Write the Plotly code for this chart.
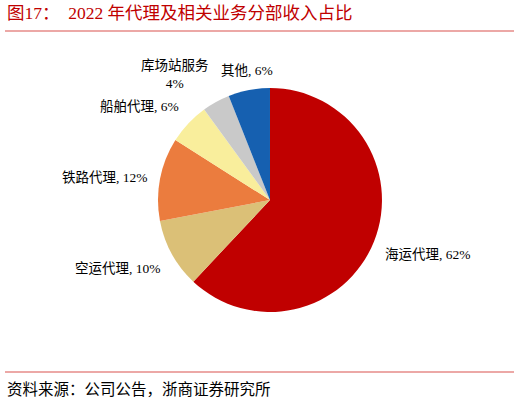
import math
import plotly.graph_objects as go

# 2022年代理及相关业务分部收入占比 (%)
labels = ["海运代理", "空运代理", "铁路代理", "船舶代理", "库场站服务", "其他"]
values = [62, 10, 12, 6, 4, 6]
label_text = ["海运代理, 62%", "空运代理, 10%", "铁路代理, 12%", "船舶代理, 6%", "库场站服务<br>4%", "其他, 6%"]
colors = ["#C00000", "#DBC077", "#EB7C3E", "#F9EE9C", "#C9C9C9", "#1660B0"]

FONT = "Liberation Serif, Noto Sans CJK SC, serif"
W, H = 520, 403
dom_x = [0.3038, 0.7346]
dom_y = [0.2258, 0.7816]

fig = go.Figure(go.Pie(
    labels=labels,
    values=values,
    textinfo="none",
    sort=False,
    direction="clockwise",
    rotation=0,
    marker=dict(colors=colors, line=dict(width=0)),
    domain=dict(x=dom_x, y=dom_y),
    showlegend=False,
    hoverinfo="label+percent",
))

fig.update_layout(
    width=W, height=H,
    margin=dict(l=0, r=0, t=0, b=0),
    paper_bgcolor="white",
    plot_bgcolor="white",
    showlegend=False,
)

# data labels just outside each slice (Excel style, no leader lines)
cx = (dom_x[0] + dom_x[1]) / 2 * W
cy = (1 - (dom_y[0] + dom_y[1]) / 2) * H
rad = (dom_x[1] - dom_x[0]) * W / 2 + 10
total = sum(values)
cum = 0
for txt, v in zip(label_text, values):
    mid = (cum + v / 2) / total * 2 * math.pi
    cum += v
    s, c = math.sin(mid), math.cos(mid)
    px, py = cx + rad * s, cy - rad * c
    xa = "left" if s > 0.3 else ("right" if s < -0.3 else "center")
    ya = "bottom" if c > 0.3 else ("top" if c < -0.3 else "middle")
    fig.add_annotation(text=txt, xref="paper", yref="paper", x=px / W, y=1 - py / H,
                       xanchor=xa, yanchor=ya, showarrow=False, align="center",
                       font=dict(family=FONT, size=13.5, color="#000000"))

# title and source
fig.add_annotation(text="图17：  2022 年代理及相关业务分部收入占比", xref="paper", yref="paper",
                   x=0.01, y=1 - 13 / H, xanchor="left", yanchor="middle", showarrow=False,
                   font=dict(family=FONT, size=17.5, color="#C00000"))
fig.add_annotation(text="资料来源：公司公告，浙商证券研究所", xref="paper", yref="paper",
                   x=0.01, y=1 - 389 / H, xanchor="left", yanchor="middle", showarrow=False,
                   font=dict(family=FONT, size=15.5, color="#000000"))
fig.add_shape(type="line", xref="paper", yref="paper", x0=5 / W, x1=514 / W,
              y0=1 - 31 / H, y1=1 - 31 / H, line=dict(color="#D9534F", width=1.2))
fig.add_shape(type="line", xref="paper", yref="paper", x0=5 / W, x1=514 / W,
              y0=1 - 372 / H, y1=1 - 372 / H, line=dict(color="#D9534F", width=1.2))

fig.write_html("out.html", config={"displayModeBar": False},
               post_script="document.body.style.margin='0';")
